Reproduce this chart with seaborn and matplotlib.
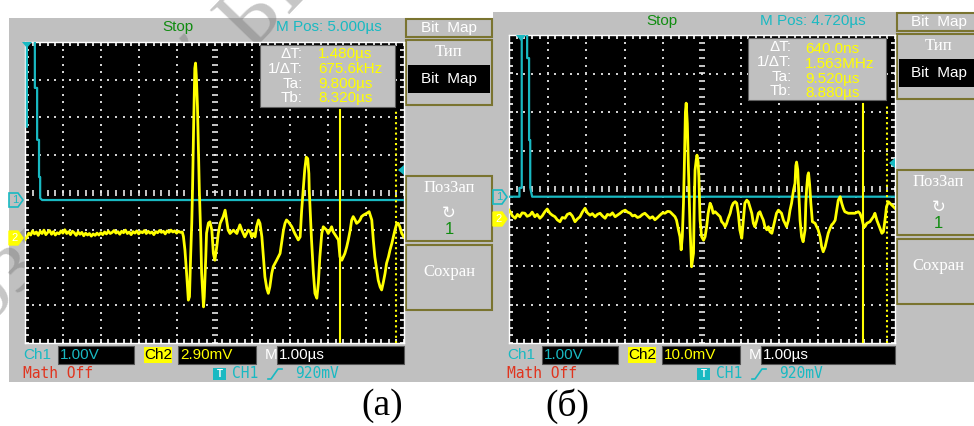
import matplotlib
matplotlib.use("Agg")
import matplotlib.pyplot as plt
from matplotlib.patches import Rectangle, Polygon
import seaborn as sns
import numpy as np

plt.rcParams['font.family'] = ['Liberation Sans', 'DejaVu Sans']

# ---- traces, in screen divisions (x: 0..10 time div, y: -4..4 volt div) ----
CH1_A = [(0.05, 1.75), (0.05, 4.2), (0.26, 4.2), (0.26, 2.78), (0.32, 2.78), (0.32, 1.40),
         (0.37, 1.40), (0.37, 0.41), (0.40, 0.41), (0.40, -0.15), (0.45, -0.2), (10.0, -0.2)]

CH2_A = [(0.00, -1.25), (0.05, -1.18), (0.10, -1.08), (0.15, -1.13), (0.20, -1.02), (0.25, -1.10),
         (0.30, -1.05), (0.35, -1.14), (0.40, -1.03), (0.45, -1.09), (0.50, -1.00), (0.55, -1.12),
         (0.60, -1.06), (0.65, -1.01), (0.70, -1.11), (0.75, -1.04), (0.80, -1.13), (0.85, -1.07),
         (0.90, -1.10), (0.95, -1.02), (1.00, -1.08), (1.05, -0.99), (1.10, -1.09), (1.15, -1.04),
         (1.20, -1.12), (1.25, -1.03), (1.30, -1.07), (1.35, -1.14), (1.40, -1.05), (1.45, -1.11),
         (1.50, -1.06), (1.55, -1.15), (1.60, -1.08), (1.65, -1.13), (1.70, -1.09), (1.75, -1.16),
         (1.80, -1.10), (1.85, -1.14), (1.90, -1.08), (1.95, -1.13), (2.00, -1.07), (2.05, -1.12),
         (2.10, -1.05), (2.15, -1.10), (2.20, -1.03), (2.25, -1.09), (2.30, -1.06), (2.35, -1.01),
         (2.40, -1.08), (2.45, -1.04), (2.50, -1.11), (2.55, -1.03), (2.60, -1.07), (2.65, -1.00),
         (2.70, -1.09), (2.75, -1.05), (2.80, -1.12), (2.85, -1.04), (2.90, -1.08), (2.95, -1.02),
         (3.00, -1.10), (3.05, -1.04), (3.10, -1.07), (3.15, -1.01), (3.20, -1.09), (3.25, -1.03),
         (3.30, -1.08), (3.35, -1.05), (3.40, -1.12), (3.45, -1.04), (3.50, -1.07), (3.55, -1.01),
         (3.60, -1.06), (3.65, -1.03), (3.70, -1.10), (3.75, -1.02), (3.80, -1.06), (3.85, -1.00),
         (3.90, -1.05), (3.95, -1.02), (4.00, -1.08), (4.05, -1.03), (4.10, -1.06), (4.15, -1.05),
         (4.18, -1.17), (4.22, -1.53), (4.27, -2.24), (4.31, -2.86), (4.34, -2.77), (4.37, -1.71),
         (4.40, -0.81), (4.42, 0.07), (4.45, 1.80), (4.48, 3.30), (4.50, 3.44), (4.52, 3.10),
         (4.55, 2.30), (4.58, 1.00), (4.60, 0.07), (4.64, -1.26), (4.66, -2.14), (4.71, -3.04),
         (4.73, -2.77), (4.77, -1.71), (4.79, -1.08), (4.84, -0.81), (4.88, -0.78), (4.93, -1.00),
         (4.97, -1.62), (5.01, -1.80), (5.06, -1.44), (5.10, -1.09), (5.15, -0.82), (5.23, -0.64),
         (5.28, -0.47), (5.32, -0.73), (5.36, -1.00), (5.41, -1.09), (5.50, -1.00), (5.59, -1.09),
         (5.67, -0.86), (5.72, -1.00), (5.80, -1.18), (5.89, -1.00), (5.94, -1.04), (5.98, -1.18),
         (6.02, -1.09), (6.07, -1.18), (6.11, -0.91), (6.16, -0.73), (6.20, -0.82), (6.25, -1.18),
         (6.29, -1.71), (6.33, -2.24), (6.38, -2.55), (6.42, -2.68), (6.46, -2.51), (6.51, -2.15),
         (6.55, -1.97), (6.64, -1.80), (6.73, -1.62), (6.77, -1.35), (6.82, -1.00), (6.86, -0.82),
         (6.90, -0.73), (6.95, -0.78), (7.04, -0.91), (7.12, -1.09), (7.21, -1.26), (7.26, -1.18),
         (7.30, -0.47), (7.34, 0.07), (7.38, 0.60), (7.42, 0.94), (7.46, 0.90), (7.49, 0.50),
         (7.50, 0.07), (7.56, -1.26), (7.61, -2.15), (7.65, -2.68), (7.70, -2.81), (7.74, -2.41),
         (7.78, -1.71), (7.83, -1.09), (7.87, -0.91), (7.96, -1.00), (8.00, -1.09), (8.05, -1.00),
         (8.09, -0.91), (8.13, -1.04), (8.22, -1.18), (8.27, -1.26), (8.31, -1.71), (8.36, -1.80),
         (8.40, -1.71), (8.44, -1.62), (8.49, -1.44), (8.53, -1.26), (8.58, -1.00), (8.62, -0.73),
         (8.66, -0.64), (8.71, -0.73), (8.75, -0.82), (8.80, -0.78), (8.84, -0.73), (8.88, -0.64),
         (8.93, -0.60), (9.02, -0.55), (9.08, -0.51), (9.15, -0.73), (9.19, -1.26), (9.23, -1.71),
         (9.28, -2.06), (9.32, -2.33), (9.37, -2.51), (9.41, -2.59), (9.45, -2.41), (9.50, -2.15),
         (9.54, -1.88), (9.59, -1.71), (9.63, -1.53), (9.68, -1.35), (9.72, -1.18), (9.76, -1.00),
         (9.81, -0.82), (9.85, -0.82), (9.89, -0.91), (9.94, -1.09), (10.0, -1.18)]

CH1_B = [(0.0, -0.2), (0.27, -0.2), (0.27, 0.03), (0.33, 0.03), (0.33, 4.2), (0.47, 4.2),
         (0.47, 3.4), (0.52, 3.4), (0.52, 1.27), (0.55, 1.27), (0.55, 0.03), (0.60, -0.2),
         (10.0, -0.2)]

CH2_B = [(0.00, -0.55), (0.03, -0.59), (0.09, -0.70), (0.16, -0.76), (0.22, -0.66), (0.28, -0.72),
         (0.34, -0.62), (0.41, -0.63), (0.47, -0.71), (0.54, -0.68), (0.60, -0.60), (0.67, -0.72),
         (0.73, -0.66), (0.80, -0.76), (0.86, -0.70), (0.93, -0.59), (0.99, -0.52), (1.06, -0.63),
         (1.12, -0.68), (1.19, -0.72), (1.25, -0.80), (1.32, -0.85), (1.38, -0.74), (1.45, -0.76),
         (1.51, -0.66), (1.58, -0.63), (1.64, -0.70), (1.71, -0.85), (1.77, -0.78), (1.84, -0.72),
         (1.90, -0.60), (1.97, -0.50), (2.03, -0.62), (2.10, -0.68), (2.16, -0.64), (2.23, -0.72),
         (2.29, -0.66), (2.36, -0.63), (2.42, -0.70), (2.49, -0.76), (2.55, -0.66), (2.62, -0.68),
         (2.68, -0.62), (2.75, -0.72), (2.81, -0.68), (2.88, -0.63), (2.94, -0.58), (3.01, -0.55),
         (3.07, -0.60), (3.14, -0.63), (3.20, -0.70), (3.26, -0.68), (3.33, -0.74), (3.39, -0.72),
         (3.46, -0.66), (3.52, -0.63), (3.59, -0.70), (3.65, -0.76), (3.72, -0.72), (3.78, -0.80),
         (3.85, -0.74), (3.91, -0.68), (3.98, -0.62), (4.04, -0.63), (4.11, -0.58), (4.17, -0.59),
         (4.24, -0.66), (4.30, -0.72), (4.34, -0.81), (4.39, -1.06), (4.43, -1.24), (4.46, -1.58),
         (4.49, -1.24), (4.52, -0.37), (4.54, 0.49), (4.57, 2.00), (4.59, 2.23), (4.62, 1.70),
         (4.65, 0.49), (4.69, -1.00), (4.73, -2.02), (4.78, -1.67), (4.80, -0.37), (4.82, 0.49),
         (4.85, 0.75), (4.87, 0.88), (4.90, 0.70), (4.92, 0.30), (4.95, -0.81), (4.99, -1.24),
         (5.04, -1.33), (5.08, -1.24), (5.12, -0.98), (5.16, -0.63), (5.21, -0.37), (5.25, -0.46),
         (5.29, -0.63), (5.34, -0.59), (5.38, -0.63), (5.47, -0.72), (5.51, -0.85), (5.55, -0.89),
         (5.60, -0.98), (5.64, -0.89), (5.68, -0.76), (5.73, -0.63), (5.77, -0.46), (5.81, -0.37),
         (5.86, -0.33), (5.90, -0.37), (5.94, -0.63), (5.98, -1.06), (6.03, -1.28), (6.07, -0.81),
         (6.11, -0.37), (6.16, -0.29), (6.20, -0.33), (6.24, -0.46), (6.29, -0.63), (6.33, -0.89),
         (6.37, -0.98), (6.42, -0.81), (6.46, -0.63), (6.50, -0.59), (6.55, -0.72), (6.59, -0.81),
         (6.63, -0.98), (6.68, -1.06), (6.72, -0.98), (6.76, -1.11), (6.81, -1.15), (6.85, -0.98),
         (6.89, -0.81), (6.93, -0.63), (6.98, -0.55), (7.02, -0.59), (7.06, -0.63), (7.11, -0.81),
         (7.15, -0.89), (7.19, -0.98), (7.24, -0.81), (7.28, -0.55), (7.32, -0.37), (7.37, -0.03),
         (7.41, 0.15), (7.43, 0.60), (7.45, 0.70), (7.48, 0.50), (7.50, 0.06), (7.54, -0.81),
         (7.58, -1.24), (7.62, -1.37), (7.67, -1.06), (7.69, -0.37), (7.71, 0.00), (7.74, 0.35),
         (7.76, 0.42), (7.79, 0.10), (7.82, -0.37), (7.86, -0.85), (7.93, -0.89), (7.97, -0.98),
         (8.01, -1.06), (8.06, -1.24), (8.10, -1.50), (8.14, -1.63), (8.19, -1.50), (8.23, -1.33),
         (8.27, -1.15), (8.32, -1.02), (8.36, -0.93), (8.40, -0.89), (8.45, -0.81), (8.49, -0.55),
         (8.53, -0.29), (8.58, -0.20), (8.62, -0.37), (8.66, -0.50), (8.70, -0.59), (8.79, -0.63),
         (8.88, -0.63), (8.96, -0.63), (9.05, -0.59), (9.09, -0.63), (9.14, -0.76), (9.18, -0.93),
         (9.22, -0.98), (9.27, -0.89), (9.35, -0.85), (9.44, -0.72), (9.48, -0.63), (9.53, -0.81),
         (9.61, -1.02), (9.66, -1.15), (9.70, -1.11), (9.74, -0.81), (9.78, -0.46), (9.83, -0.33),
         (9.87, -0.37), (9.96, -0.46), (10.0, -0.50)]

# cursors (div): solid Tb, dotted Ta
CURSORS_A = (8.31, 9.79)
CURSORS_B = (9.16, 9.79)

# readouts
READ_LABELS = ["ΔT:", "1/ΔT:", "Ta:", "Tb:"]
READ_A = ["1.480µs", "675.6kHz", "9.800µs", "8.320µs"]
READ_B = ["640.0ns", "1.563MHz", "9.520µs", "8.880µs"]
MPOS = ["M Pos: 5.000µs", "M Pos: 4.720µs"]
CH2_SCALE = ["2.90mV", "10.0mV"]
CH1_SCALE = "1.00V"
TIMEBASE = "1.00µs"
TRIG_LEVEL = "920mV"
PANEL_LABELS = ["(а)", "(б)"]

GREY = "#c0c0c0"
CYAN = "#19b9c2"
YEL = "#ffff00"
OLIVE = "#7a7430"
GREEN = "#108c10"
RED = "#e0341e"

fig = plt.figure(figsize=(9.74, 4.26), dpi=100)
fig.patch.set_facecolor("white")

bg = fig.add_axes([0, 0, 1, 1])
bg.set_xlim(0, 974); bg.set_ylim(426, 0); bg.axis("off"); bg.set_zorder(0)
fg = fig.add_axes([0, 0, 1, 1])
fg.set_xlim(0, 974); fg.set_ylim(426, 0); fg.axis("off"); fg.set_zorder(3)
fg.patch.set_alpha(0)


def rect(ax, x0, y0, x1, y1, fc, ec="none", lw=1.0, z=1):
    ax.add_patch(Rectangle((x0, y0), x1 - x0, y1 - y0, facecolor=fc, edgecolor=ec, linewidth=lw, zorder=z))


def txt(ax, x, y, s, c="white", size=11, ha="center", z=5, **kw):
    ax.text(x, y, s, color=c, fontsize=size, ha=ha, va="center", zorder=z, **kw)


# grey instrument panels
rect(bg, 9, 18, 500, 382, GREY, z=1)
rect(bg, 493, 12, 980, 382, GREY, z=1.5)

# watermark (mostly hidden behind the screens)
wm = bg.text(138, 140, "Репозиторий БНТУ", fontsize=66, color="#777777", alpha=0.42,
             rotation=46, ha="center", va="center", zorder=1.8, family="Liberation Serif")
wm.set_clip_on(True)


def panel(sx0, sy0, sx1, sy1, mx0, mx1, ytop, mpos, ch2s, ch1, ch2, curs):
    # header texts
    txt(bg, sx0 + 153, ytop + 9, "Stop", c=GREEN, size=11, z=3)
    txt(bg, sx0 + 304, ytop + 9, mpos, c=CYAN, size=11, z=3)
    # menu
    mc = (mx0 + mx1) / 2
    rect(bg, mx0, ytop + 1, mx1, ytop + 19, GREY, OLIVE, 1.5, z=3)
    txt(bg, mc, ytop + 10, "Bit  Map", size=11, z=4)
    rect(bg, mx0, ytop + 22, mx1, ytop + 87, GREY, OLIVE, 1.5, z=3)
    txt(bg, mc, ytop + 34, "Тип", size=12, z=4, family="Liberation Serif")
    rect(bg, mx0 + 2, ytop + 47, mx1 - 2, ytop + 75, "black", z=4)
    txt(bg, mc, ytop + 61, "Bit  Map", size=11, z=5)
    rect(bg, mx0, ytop + 158, mx1, ytop + 223, GREY, OLIVE, 1.5, z=3)
    txt(bg, mc, ytop + 170, "ПозЗап", size=12, z=4, family="Liberation Serif")
    txt(bg, mc, ytop + 195, "↻", size=12, z=4, family="DejaVu Sans")
    txt(bg, mc, ytop + 212, "1", c=GREEN, size=12, z=4)
    rect(bg, mx0, ytop + 227, mx1, ytop + 292, GREY, OLIVE, 1.5, z=3)
    txt(bg, mc, ytop + 254, "Сохран", size=12, z=4, family="Liberation Serif")

    # bottom readouts
    r1, r2 = 355, 374
    txt(bg, sx0 - 2, r1, "Ch1", c=CYAN, ha="left", z=3)
    rect(bg, sx0 + 33, 346, sx0 + 109, 364, "black", "#555555", 0.8, z=3)
    txt(bg, sx0 + 35, r1, CH1_SCALE, c=CYAN, ha="left", z=4)
    rect(bg, sx0 + 119, 347, sx0 + 147, 363, YEL, z=3)
    txt(bg, sx0 + 133, r1, "Ch2", c="black", z=4)
    rect(bg, sx0 + 153, 346, sx0 + 231, 364, "black", "#555555", 0.8, z=3)
    txt(bg, sx0 + 155, r1, ch2s, c=YEL, ha="left", z=4)
    txt(bg, sx0 + 246, r1, "M", c="white", z=3)
    rect(bg, sx0 + 252, 346, sx1, 364, "black", "#555555", 0.8, z=3)
    txt(bg, sx0 + 254, r1, TIMEBASE, c="white", ha="left", z=4)
    txt(bg, sx0 - 2, r2, "Math Off", c=RED, size=10.5, ha="left", z=3, family="DejaVu Sans Mono")
    rect(bg, sx0 + 188, 368, sx0 + 201, 380, CYAN, z=3)
    txt(bg, sx0 + 194.5, 374, "T", c="white", size=7, z=4, weight="bold")
    txt(bg, sx0 + 207, r2, "CH1", c=CYAN, size=10.5, ha="left", z=3, family="DejaVu Sans Mono")
    bg.plot([sx0 + 243, sx0 + 246, sx0 + 253, sx0 + 257], [379, 379, 369, 369], color=CYAN, lw=1.2, zorder=3)
    txt(bg, sx0 + 270, r2, TRIG_LEVEL, c=CYAN, size=10.5, ha="left", z=3, family="DejaVu Sans Mono")

    # screen
    ax = fig.add_axes([sx0 / 974, 1 - sy1 / 426, (sx1 - sx0) / 974, (sy1 - sy0) / 426])
    ax.set_zorder(2)
    ax.set_facecolor("black")
    fine = np.arange(0, 10.01, 0.2)
    vfine = np.arange(-4, 4.01, 0.2)
    for gx in [1, 2, 3, 4, 6, 7, 8, 9]:
        ax.scatter([gx] * len(vfine), vfine, s=2.2, marker="s", c="#d0d0d0", linewidths=0, zorder=1)
    for gy in [-3, -2, -1, 1, 2, 3]:
        ax.scatter(fine, [gy] * len(fine), s=2.2, marker="s", c="#d0d0d0", linewidths=0, zorder=1)
    ax.scatter([5] * len(vfine), vfine, s=14, marker="_", c="#e8e8e8", linewidths=1.2, zorder=1)
    ax.scatter(fine, [0] * len(fine), s=14, marker="|", c="#e8e8e8", linewidths=1.2, zorder=1)
    ax.scatter(fine, [4] * len(fine), s=40, marker="|", c="white", linewidths=1.2, zorder=1)
    ax.scatter(fine, [-4] * len(fine), s=40, marker="|", c="white", linewidths=1.2, zorder=1)
    ax.scatter([0] * len(vfine), vfine, s=40, marker="_", c="white", linewidths=1.2, zorder=1)
    ax.scatter([10] * len(vfine), vfine, s=40, marker="_", c="white", linewidths=1.2, zorder=1)

    x1, y1 = zip(*ch1)
    x2, y2 = zip(*ch2)
    sns.lineplot(x=list(x1), y=list(y1), sort=False, estimator=None, color=CYAN, lw=1.6, ax=ax, zorder=3)
    sns.lineplot(x=list(x2), y=list(y2), sort=False, estimator=None, color=YEL, lw=2.0, ax=ax, zorder=4)

    ax.plot([curs[0], curs[0]], [-4, 2.2], color=YEL, lw=1.5, zorder=5)
    ax.plot([curs[1], curs[1]], [-4, 2.2], color=YEL, lw=1.5, ls=(0, (1, 1.5)), zorder=5)

    ax.set_xlim(0, 10); ax.set_ylim(-4, 4)
    ax.set_xticks([]); ax.set_yticks([])
    ax.set_xlabel(""); ax.set_ylabel("")
    for s in ax.spines.values():
        s.set_color("white"); s.set_linewidth(1.0)

    # cursor readout box
    sw = (sx1 - sx0) / 10
    bx0, bx1 = sx0 + 6.2 * sw, sx0 + 9.77 * sw
    rect(fg, bx0, sy0 + 3, bx1, sy0 + 65, GREY, "#606060", 0.8, z=2)
    for i in range(4):
        yy = sy0 + 12 + 14.8 * i
        txt(fg, sx0 + 7.32 * sw, yy, READ_LABELS[i], c="white", ha="right", z=3)
    return ax


def markers(x0, y1, y2, top_x, top_y, rx, ry):
    # channel markers on the left of a screen
    fg.add_patch(Polygon([(x0, y1 - 7), (x0 + 9, y1 - 7), (x0 + 14, y1), (x0 + 9, y1 + 7), (x0, y1 + 7)],
                         closed=True, facecolor=GREY, edgecolor=CYAN, lw=1.2, zorder=4))
    txt(fg, x0 + 6, y1, "1", c=CYAN, size=8, z=5)
    fg.add_patch(Polygon([(x0, y2 - 7), (x0 + 9, y2 - 7), (x0 + 14, y2), (x0 + 9, y2 + 7), (x0, y2 + 7)],
                         closed=True, facecolor=YEL, edgecolor=YEL, lw=1.0, zorder=4))
    txt(fg, x0 + 6, y2, "2", c="white", size=8, z=5)
    fg.add_patch(Polygon([(top_x - 5, top_y), (top_x + 5, top_y), (top_x, top_y + 6)],
                         closed=True, facecolor=CYAN, edgecolor="none", zorder=4))
    fg.add_patch(Polygon([(rx, ry - 5), (rx, ry + 5), (rx - 6, ry)],
                         closed=True, facecolor=CYAN, edgecolor="none", zorder=4))


panel(25, 42, 404, 343, 406, 492, 18, MPOS[0], CH2_SCALE[0], CH1_A, CH2_A, CURSORS_A)
panel(509, 35, 895, 343, 897, 980, 12, MPOS[1], CH2_SCALE[1], CH1_B, CH2_B, CURSORS_B)

# readout values
for i in range(4):
    txt(fg, 318, 54 + 14.8 * i, READ_A[i], c=YEL, ha="left", z=3)
    txt(fg, 805, 49 + 14.8 * i, READ_B[i], c=YEL, ha="left", z=3)

markers(9, 200, 238, 27, 42, 404, 170)
markers(493, 197, 219, 521, 35, 895, 163)

# panel captions
bg.text(382, 406, PANEL_LABELS[0], fontsize=27, family="Liberation Serif", ha="center", va="center", zorder=3)
bg.text(567, 406, PANEL_LABELS[1], fontsize=27, family="Liberation Serif", ha="center", va="center", zorder=3)

fig.savefig("out.png", dpi=100, facecolor="white")
